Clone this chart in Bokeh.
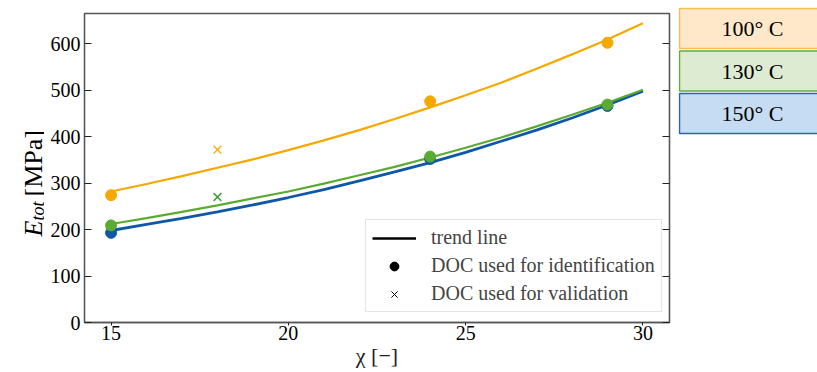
import math
from bokeh.plotting import figure
from bokeh.models import Range1d, LinearAxis, Legend, LegendItem, FixedTicker, ColumnDataSource
from bokeh.layouts import row
from bokeh.core.properties import value
from bokeh.embed import file_html
from bokeh.resources import INLINE

# ---------------- data ----------------
temp_labels = ["100° C", "130° C", "150° C"]

chi_id = [15, 24, 29]
E_id_100 = [274, 476, 602]
E_id_130 = [209, 357, 469]
E_id_150 = [193, 352, 466]

chi_val = [18]
E_val_100 = [372]
E_val_130 = [270]

chi_trend = [15, 16, 17, 18, 19, 20, 21, 22, 23, 24, 25, 26, 27, 28, 29, 30]
E_trend_100 = [282, 298, 315, 333, 351, 371, 392, 414, 438, 463, 489, 516, 546, 577, 609, 644]
E_trend_130 = [212, 224.5, 238, 252, 267, 282, 299, 317, 335, 355, 376, 398, 422, 447, 473, 501]
E_trend_150 = [198, 211, 224, 238, 253, 269, 286, 305, 324, 344, 366, 390, 414, 440, 468, 498]

x_ticks = [15, 20, 25, 30]
y_ticks = [0, 100, 200, 300, 400, 500, 600]

legend_labels = ["trend line", "DOC used for identification", "DOC used for validation"]
x_title = "χ [−]"

# ---------------- styles ----------------
ORANGE = "#F5A800"
GREEN = "#5BAA32"
GREEN_X = "#3C9A3A"
BLUE = "#0F58A6"
FONT = "Liberation Serif"
AX = "#555555"
NAN = float("nan")
H = 372


def bare(fig):
    fig.outline_line_color = None
    fig.xgrid.visible = False
    fig.ygrid.visible = False
    fig.background_fill_alpha = 0
    fig.border_fill_alpha = 0
    fig.frame_align = False


# ---------------- main plot ----------------
p = figure(width=634, height=H, x_range=Range1d(14.25, 30.75), y_range=Range1d(0, 665),
           output_backend="svg", toolbar_location=None,
           min_border_left=40, min_border_right=9, min_border_top=13, min_border_bottom=50)
p.frame_align = False
p.xgrid.visible = False
p.ygrid.visible = False
p.outline_line_color = AX
p.outline_line_width = 1.3
p.border_fill_alpha = 0

p.xaxis.ticker = FixedTicker(ticks=x_ticks)
p.yaxis.ticker = FixedTicker(ticks=y_ticks)
for ax in (p.xaxis[0], p.yaxis[0]):
    ax.axis_line_color = AX
    ax.axis_line_width = 1.3
    ax.major_tick_line_color = "#222222"
    ax.minor_tick_line_color = None
    ax.major_label_text_font = FONT
    ax.major_label_text_font_size = "20px"
    ax.major_label_text_color = "black"
p.yaxis.major_tick_in = 7
p.yaxis.major_tick_out = 0
p.yaxis.major_label_standoff = 4
p.xaxis.major_tick_in = 0
p.xaxis.major_tick_out = 3
p.xaxis.major_label_standoff = 0
p.xaxis.axis_label = x_title
p.xaxis.axis_label_text_font = FONT
p.xaxis.axis_label_text_font_size = "22px"
p.xaxis.axis_label_text_font_style = "normal"
p.xaxis.axis_label_text_color = "#222222"
p.xaxis.axis_label_standoff = 0

rax = LinearAxis(ticker=FixedTicker(ticks=y_ticks))
rax.axis_line_color = AX
rax.axis_line_width = 1.3
rax.major_tick_in = 7
rax.major_tick_out = 0
rax.minor_tick_line_color = None
rax.major_tick_line_color = "#222222"
rax.major_label_text_color = None
rax.major_label_text_font_size = "1px"
rax.major_label_standoff = 0
p.add_layout(rax, "right")

# trend lines
p.line(chi_trend, E_trend_150, color=BLUE, line_width=2.8)
p.line(chi_trend, E_trend_130, color=GREEN, line_width=2.2)
p.line(chi_trend, E_trend_100, color=ORANGE, line_width=2.2)

# identification points
p.scatter(chi_id, E_id_150, marker="circle", size=11, color=BLUE)
p.scatter(chi_id, E_id_130, marker="circle", size=11, color=GREEN)
p.scatter(chi_id, E_id_100, marker="circle", size=11, color=ORANGE)

# validation points
p.scatter(chi_val, E_val_130, marker="x", size=11, line_color=GREEN_X, line_width=1.5)
p.scatter(chi_val, E_val_100, marker="x", size=11, line_color=ORANGE, line_width=1.2)

# legend proxies (black, not plotted)
r_line = p.line(x=[NAN, NAN], y=[NAN, NAN], color="black", line_width=2.5)
r_dot = p.scatter(x=[NAN], y=[NAN], marker="circle", size=10, color="black")
r_x = p.scatter(x=[NAN], y=[NAN], marker="x", size=11, line_color="black", line_width=1)
legend = Legend(items=[LegendItem(label=legend_labels[0], renderers=[r_line]),
                       LegendItem(label=legend_labels[1], renderers=[r_dot]),
                       LegendItem(label=legend_labels[2], renderers=[r_x])],
                location=(281, 10), orientation="vertical")
legend.label_text_font = FONT
legend.label_text_font_size = "20px"
legend.label_height = 22
legend.glyph_height = 22
legend.glyph_width = 44
legend.label_standoff = 15
legend.spacing = 5
legend.padding = 6
legend.margin = 0
legend.border_line_color = "#cccccc"
legend.border_line_width = 1
legend.background_fill_alpha = 0.85
p.add_layout(legend, "center")

# ---------------- y label panel ----------------
ylab = figure(width=44, height=H, x_range=Range1d(0, 44), y_range=Range1d(0, H),
              x_axis_type=None, y_axis_type=None,
              output_backend="svg", toolbar_location=None, min_border=0)
bare(ylab)
ylab.text(x=[33], y=[136], text=["E"], angle=math.pi / 2, text_font=value(FONT),
          text_font_style="italic", text_font_size="26px", text_align="left",
          text_baseline="alphabetic", text_color="black")
ylab.text(x=[37], y=[152], text=["tot"], angle=math.pi / 2, text_font=value(FONT),
          text_font_style="italic", text_font_size="18px", text_align="left",
          text_baseline="alphabetic", text_color="black")
ylab.text(x=[33], y=[176], text=["[MPa]"], angle=math.pi / 2, text_font=value(FONT),
          text_font_size="26px", text_align="left",
          text_baseline="alphabetic", text_color="black")

# ---------------- side boxes ----------------
side = figure(width=139, height=H, x_range=Range1d(0, 139), y_range=Range1d(H, 0),
              x_axis_type=None, y_axis_type=None,
              output_backend="svg", toolbar_location=None, min_border=0)
bare(side)
box_fill = ["#FFE8C9", "#DDEBD3", "#C6DCF2"]
box_line = ["#F7BE50", "#63AE3E", "#2A67B0"]
box_h = 40
box_step = 42.5
tops = [8 + i * box_step for i in range(len(temp_labels))]
bottoms = [t + box_h for t in tops]
side.quad(left=1, right=160, top=tops, bottom=bottoms, fill_color=box_fill, line_color=box_line, line_width=1.5)
src = ColumnDataSource(dict(x=[74] * len(temp_labels), y=[(a + b) / 2 for a, b in zip(tops, bottoms)], t=temp_labels))
side.text(x="x", y="y", text="t", source=src, text_font=value(FONT), text_font_size="22px",
          text_align="center", text_baseline="middle", text_color="black")

layout = row(ylab, p, side)
open("out.html", "w").write(file_html(layout, INLINE))
